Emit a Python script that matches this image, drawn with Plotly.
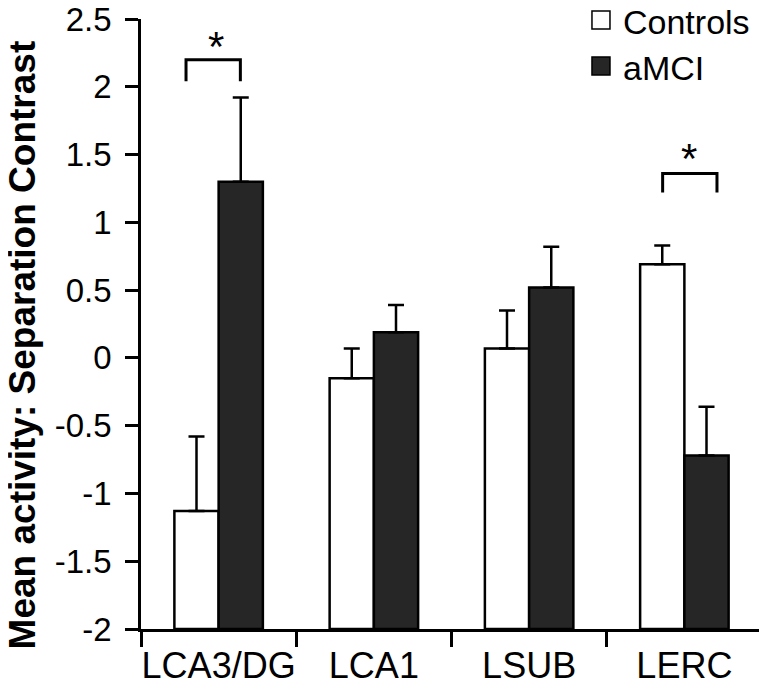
import plotly.graph_objects as go

regions = ['LCA3/DG', 'LCA1', 'LSUB', 'LERC']
controls = [-1.13, -0.15, 0.07, 0.69]
controls_err = [0.55, 0.22, 0.28, 0.14]
amci = [1.30, 0.19, 0.52, -0.72]
amci_err = [0.62, 0.20, 0.30, 0.36]
y_ticks = [-2, -1.5, -1, -0.5, 0, 0.5, 1, 1.5, 2, 2.5]
y_floor = -2
groups = ['Controls', 'aMCI']
fills = ['white', '#262626']

fig = go.Figure()

for name, values, errs, fill in zip(groups, [controls, amci],
                                    [controls_err, amci_err], fills):
    fig.add_trace(go.Bar(
        name=name, x=regions, y=[v - y_floor for v in values], base=y_floor,
        marker=dict(color=fill, line=dict(color='black', width=2.5)),
        error_y=dict(type='data', symmetric=False, array=errs,
                     arrayminus=[0] * len(errs), color='black',
                     thickness=2.5, width=8),
        showlegend=False))

# hand-made legend, top right
for k, (name, fill) in enumerate(zip(groups, fills)):
    yc = 0.9984 - k * 0.0754
    fig.add_shape(type='rect', xref='paper', yref='paper',
                  x0=0.7262, x1=0.7552, y0=yc - 0.0148, y1=yc + 0.0148,
                  fillcolor=fill, line=dict(color='black', width=1.5))
    fig.add_annotation(xref='paper', yref='paper', x=0.7745, y=yc - 0.004,
                       xanchor='left', yanchor='middle', text=name,
                       showarrow=False, borderpad=0, font=dict(size=34))

# y axis title
fig.add_annotation(xref='paper', yref='paper', x=-0.1916, y=0.474,
                   xshift=-22, yshift=-5,
                   text='<b>Mean activity: Separation Contrast</b>',
                   textangle=-90, showarrow=False, font=dict(size=37))

# significance brackets
brackets = [(0, -0.21, 0.14, 2.2, 2.04, -0.02, 2.3),
            (3, -0.14, 0.21, 1.36, 1.22, 0.03, 1.47)]
for i, x0, x1, ytop, yleg, xs, ys in brackets:
    fig.add_shape(type='path', xref='x', yref='y',
                  path=f'M {i + x0} {yleg} L {i + x0} {ytop} L {i + x1} {ytop} L {i + x1} {yleg}',
                  line=dict(color='black', width=3))
    fig.add_annotation(x=i + xs, y=ys, text='*', showarrow=False,
                       font=dict(size=42, color='black'))

fig.update_layout(
    width=767, height=693,
    margin=dict(l=133, r=13, t=11, b=72),
    plot_bgcolor='white', paper_bgcolor='white',
    barmode='group', bargap=0.43, bargroupgap=0,
    font=dict(family='Liberation Sans, Arial', size=34, color='black'),
    showlegend=False,
    xaxis=dict(showline=True, linecolor='black', linewidth=2.5,
               ticks='outside', tickson='boundaries', ticklen=15,
               tickwidth=2.5, tickcolor='black', showgrid=False,
               range=[-0.5, 3.5], automargin=False, tickangle=0,
               ticklabelstandoff=3, tickfont=dict(size=36)),
    yaxis=dict(range=[-2, 2.5], tickvals=y_ticks,
               ticktext=[f'{t:g}' for t in y_ticks],
               showline=True, linecolor='black', linewidth=2.5,
               ticks='outside', ticklen=13, tickwidth=2.5, tickcolor='black',
               showgrid=False, zeroline=False, automargin=False,
               ticklabelstandoff=7, tickfont=dict(size=33),
               ticklabeloverflow='allow'),
)

fig.write_html('out.html')
